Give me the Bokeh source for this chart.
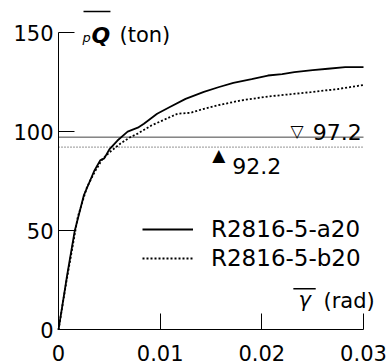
from bokeh.plotting import figure
from bokeh.models import (Label, FixedTicker, Legend, LegendItem, BoxAnnotation, Range1d)
from bokeh.embed import file_html
from bokeh.resources import INLINE

# ---- data ----
series_names = ["R2816-5-a20", "R2816-5-b20"]
gamma_a = [0, 0.0008, 0.0016, 0.0025, 0.0035, 0.0041, 0.0045, 0.0050, 0.0058, 0.0068,
           0.0078, 0.0084, 0.0097, 0.0110, 0.0125, 0.0143, 0.0158, 0.0172, 0.0190,
           0.0206, 0.0220, 0.0232, 0.0250, 0.0265, 0.0282, 0.0300]
q_a = [0, 26, 50, 68, 80, 85.5, 86.5, 91, 95.5, 100,
       102, 104, 109, 112.5, 116.5, 120, 122.5, 124.6, 126.5,
       128.3, 129, 130, 131, 131.7, 132.5, 132.5]
gamma_b = [0, 0.0008, 0.0019, 0.0028, 0.0036, 0.0043, 0.0050, 0.0061, 0.0070, 0.0078,
           0.0091, 0.0104, 0.0117, 0.0130, 0.0143, 0.0156, 0.0179, 0.0206, 0.0225,
           0.0248, 0.0275, 0.0300]
q_b = [0, 25, 57, 72, 80, 86, 89.5, 94, 97, 99,
       103, 106, 109, 109.5, 111.5, 113.2, 115.7, 117.7, 118.7,
       119.9, 121.5, 123.5]
ref_values = [97.2, 92.2]
x_ticks = [0, 0.01, 0.02, 0.03]
x_tick_labels = ["0", "0.01", "0.02", "0.03"]
y_ticks = [0, 50, 100, 150]
y_tick_labels = ["0", "50", "100", "150"]

FONT = "DejaVu Sans"

# ---- layout geometry (pixels) ----
W, H = 390, 363
AX_L, AX_R, AX_T, AX_B = 58, 363, 32, 329.3   # data box inside the canvas
sx = (AX_R - AX_L) / (x_ticks[-1] - x_ticks[0])
sy = (AX_B - AX_T) / (y_ticks[-1] - y_ticks[0])
x_range = Range1d(x_ticks[0] - AX_L / sx, x_ticks[-1] + (W - AX_R) / sx)
y_range = Range1d(y_ticks[0] - (H - AX_B) / sy, y_ticks[-1] + AX_T / sy)

p = figure(width=W, height=H, output_backend="svg", toolbar_location=None,
           x_range=x_range, y_range=y_range,
           min_border=0, min_border_left=0, min_border_right=0,
           min_border_top=0, min_border_bottom=0,
           background_fill_color="white", border_fill_color="white")
p.xgrid.visible = False
p.ygrid.visible = False
p.outline_line_color = None

for ax in (p.xaxis[0], p.yaxis[0]):
    ax.fixed_location = 0
    ax.major_tick_in = 16
    ax.major_tick_out = 0
    ax.minor_tick_line_color = None
    ax.axis_line_color = "black"
    ax.axis_line_width = 1
    ax.major_tick_line_color = "black"
    ax.major_label_text_font = FONT
    ax.major_label_text_color = "black"
    ax.major_label_text_font_size = "21px"

p.xaxis.bounds = (x_ticks[0], x_ticks[-1])
p.yaxis.bounds = (y_ticks[0], y_ticks[-1])
p.xaxis.ticker = FixedTicker(ticks=x_ticks)
p.yaxis.ticker = FixedTicker(ticks=y_ticks)
p.xaxis.major_label_overrides = {t: l for t, l in zip(x_ticks, x_tick_labels)}
p.yaxis.major_label_overrides = {t: l for t, l in zip(y_ticks, y_tick_labels)}
p.yaxis.major_label_standoff = 5
p.xaxis.major_label_standoff = 15

# reference lines (span the axis extent)
p.segment(x0=[x_ticks[0]], x1=[x_ticks[-1]], y0=[ref_values[0]], y1=[ref_values[0]],
          line_color="#444444", line_width=1)
p.segment(x0=[x_ticks[0]], x1=[x_ticks[-1]], y0=[ref_values[1]], y1=[ref_values[1]],
          line_color="#555555", line_width=1.3, line_dash="1 2")

# curves
r_a = p.line(gamma_a, q_a, line_color="black", line_width=1.8)
r_b = p.line(gamma_b, q_b, line_color="black", line_width=1.8, line_dash="2 2")

legend = Legend(items=[LegendItem(label=series_names[0], renderers=[r_a]),
                       LegendItem(label=series_names[1], renderers=[r_b])],
                location=(142, H - 271.3), border_line_color=None,
                background_fill_alpha=0, padding=0, margin=0, spacing=3,
                glyph_width=51, glyph_height=26, label_height=26, label_standoff=18,
                label_text_font=FONT, label_text_font_size="23px",
                label_text_color="black")
p.add_layout(legend)

# reference value annotations
p.add_layout(Label(x=0.02346, y=ref_values[0], text="\u25bd", text_align="center",
                   text_baseline="alphabetic", y_offset=6, text_font=FONT,
                   text_font_size="17px", text_color="black"))
p.add_layout(Label(x=0.02500, y=ref_values[0], text=f"{ref_values[0]}",
                   text_baseline="alphabetic", y_offset=5, text_font=FONT,
                   text_font_size="22px", text_color="black"))
p.add_layout(Label(x=0.01577, y=ref_values[1], text="\u25b2", text_align="center",
                   text_baseline="alphabetic", y_offset=-7.5, text_font=FONT,
                   text_font_size="17px", text_color="black"))
p.add_layout(Label(x=0.01708, y=ref_values[1], text=f"{ref_values[1]}",
                   text_baseline="alphabetic", y_offset=-19, text_font=FONT,
                   text_font_size="22px", text_color="black"))

# y axis label:  p-subscript, overlined bold Q, (ton)
p.add_layout(Label(x=0.00236, y=147.5, text="p", text_font=FONT,
                   text_font_style="italic", text_font_size="13px",
                   text_baseline="alphabetic", text_color="black"))
p.add_layout(Label(x=0.00325, y=148.5, text="Q", text_font=FONT,
                   text_font_style="bold italic", text_font_size="22px",
                   text_baseline="alphabetic", text_color="black"))
p.add_layout(Label(x=0.0060, y=148.5, text="(ton)", text_font=FONT,
                   text_font_size="21px", text_baseline="alphabetic",
                   text_color="black"))
p.add_layout(BoxAnnotation(left=0.00246, right=0.00511, bottom=160.2, top=161.0,
                           fill_color="black", fill_alpha=1, line_color=None))

# x axis label: overlined gamma, (rad)
p.add_layout(Label(x=0.0236, y=15.2, text="\u03b3", text_font=FONT,
                   text_font_style="italic", text_font_size="21px",
                   text_baseline="alphabetic", text_color="black"))
p.add_layout(Label(x=0.02606, y=14.6, text="(rad)", text_font=FONT,
                   text_font_size="21px", text_baseline="alphabetic",
                   text_color="black"))
p.add_layout(BoxAnnotation(left=0.0231, right=0.0253, bottom=20.3, top=21.1,
                           fill_color="black", fill_alpha=1, line_color=None))

open("out.html", "w").write(file_html(p, INLINE))
